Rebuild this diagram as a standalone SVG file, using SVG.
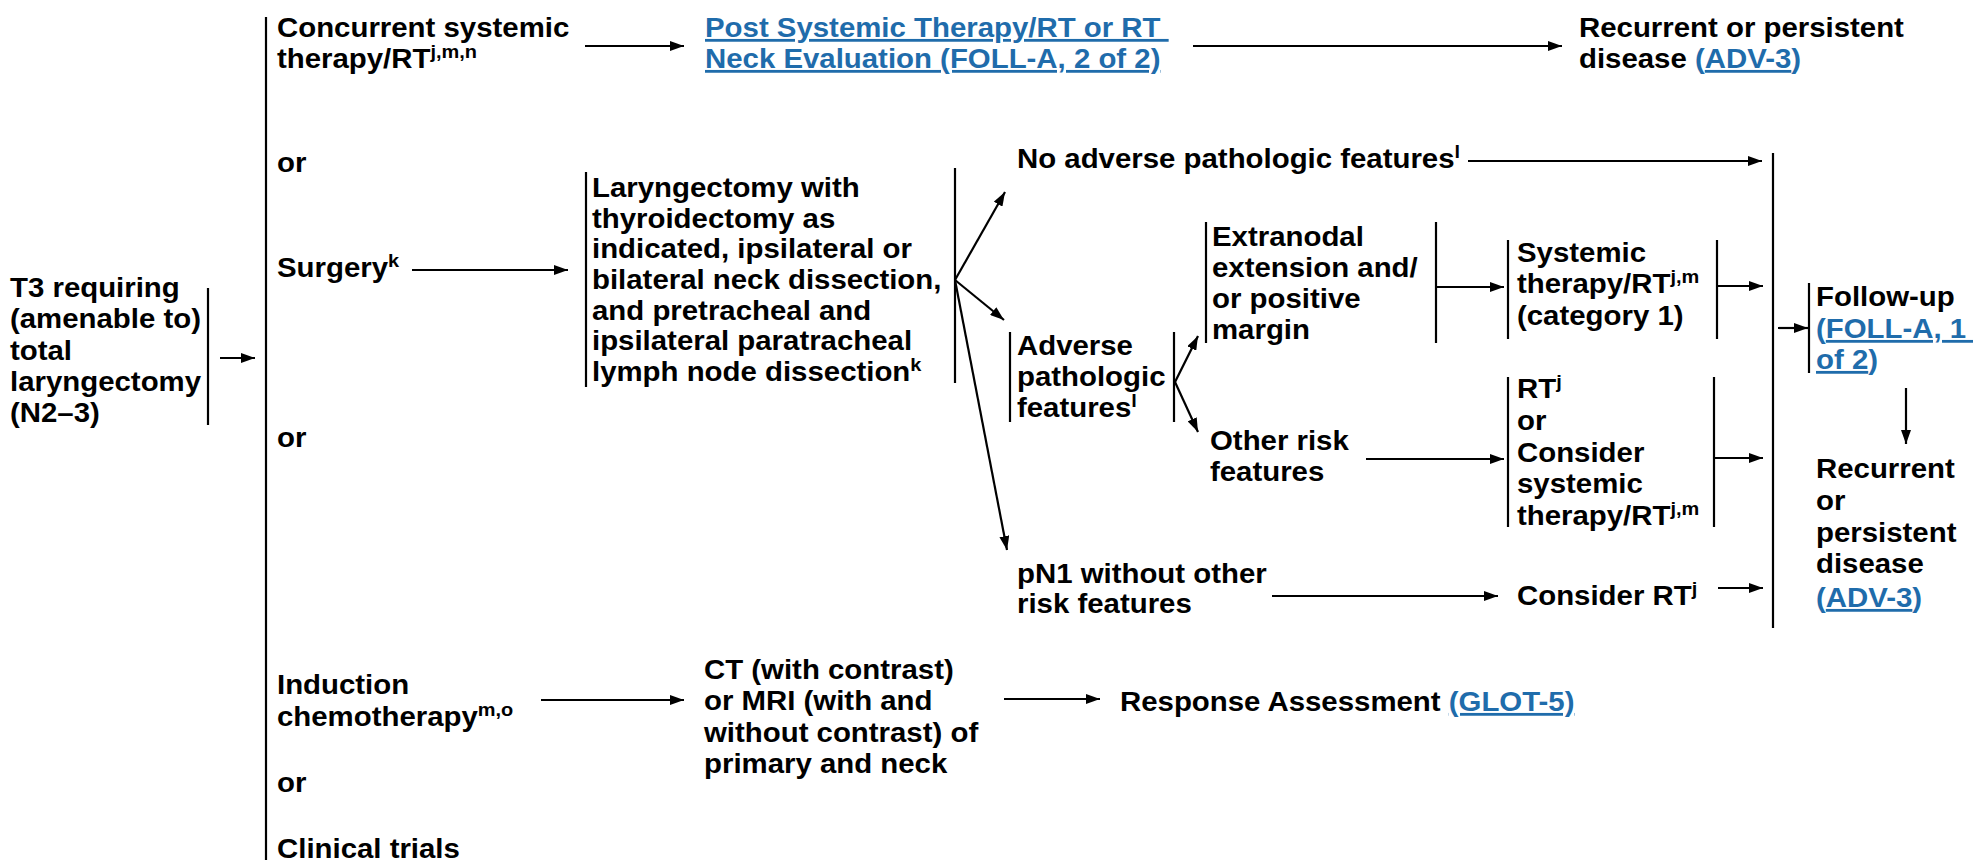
<svg xmlns="http://www.w3.org/2000/svg" width="1973" height="863" viewBox="0 0 1973 863">
<defs>
<style>
.t{font-family:"Liberation Sans",Arial,Helvetica,sans-serif;font-weight:bold;font-size:28px;fill:#000}
.s{font-size:19px}
.lk{fill:#1f6cab}
.u{text-decoration:underline}
.ln{stroke:#000;stroke-width:2.2;fill:none}
.ar{stroke:#000;stroke-width:2.2;fill:none;marker-end:url(#ah)}
</style>
<marker id="ah" viewBox="0 0 14 10" refX="14" refY="5" markerWidth="14" markerHeight="10" orient="auto" markerUnits="userSpaceOnUse"><path d="M0,0 L14,5 L0,10 z" fill="#000"/></marker>
</defs>
<rect width="1973" height="863" fill="#fff"/>

<g id="connectors">
<line class="ln" x1="266" y1="17" x2="266" y2="860"/>
<line class="ln" x1="208" y1="288" x2="208" y2="425"/>
<line class="ar" x1="220" y1="358" x2="255" y2="358"/>
<line class="ar" x1="585" y1="46" x2="684" y2="46"/>
<line class="ar" x1="1193" y1="46" x2="1562" y2="46"/>
<line class="ar" x1="412" y1="270" x2="568" y2="270"/>
<line class="ln" x1="586" y1="172" x2="586" y2="387"/>
<line class="ln" x1="955" y1="168" x2="955" y2="383"/>
<line class="ar" x1="955" y1="280" x2="1005" y2="192"/>
<line class="ar" x1="955" y1="280" x2="1004" y2="320"/>
<line class="ar" x1="955" y1="280" x2="1007" y2="550"/>
<line class="ar" x1="1468" y1="161" x2="1762" y2="161"/>
<line class="ln" x1="1773" y1="153" x2="1773" y2="628"/>
<line class="ln" x1="1010" y1="332" x2="1010" y2="422"/>
<line class="ln" x1="1174" y1="332" x2="1174" y2="422"/>
<line class="ar" x1="1175" y1="382" x2="1198" y2="336"/>
<line class="ar" x1="1175" y1="382" x2="1198" y2="432"/>
<line class="ln" x1="1206" y1="222" x2="1206" y2="343"/>
<line class="ln" x1="1436" y1="222" x2="1436" y2="343"/>
<line class="ar" x1="1436" y1="287" x2="1504" y2="287"/>
<line class="ln" x1="1508" y1="240" x2="1508" y2="339"/>
<line class="ln" x1="1717" y1="240" x2="1717" y2="339"/>
<line class="ar" x1="1717" y1="286" x2="1763" y2="286"/>
<line class="ar" x1="1366" y1="459" x2="1504" y2="459"/>
<line class="ln" x1="1508" y1="377" x2="1508" y2="527"/>
<line class="ln" x1="1714" y1="377" x2="1714" y2="527"/>
<line class="ar" x1="1714" y1="458" x2="1763" y2="458"/>
<line class="ar" x1="1272" y1="596" x2="1498" y2="596"/>
<line class="ar" x1="1718" y1="588" x2="1763" y2="588"/>
<line class="ar" x1="1778" y1="328" x2="1808" y2="328"/>
<line class="ln" x1="1809" y1="283" x2="1809" y2="373"/>
<line class="ar" x1="1906" y1="388" x2="1906" y2="444"/>
<line class="ar" x1="541" y1="700" x2="684" y2="700"/>
<line class="ar" x1="1004" y1="699" x2="1100" y2="699"/>
</g>

<g id="n_t3"><text class="t" transform="translate(10,0) scale(1.05,1)"><tspan x="0" y="297">T3 requiring</tspan><tspan x="0" y="328">(amenable to)</tspan><tspan x="0" y="360">total</tspan><tspan x="0" y="391">laryngectomy</tspan><tspan x="0" y="422">(N2–3)</tspan></text></g>

<g id="n_concurrent"><text class="t" transform="translate(277,0) scale(1.05,1)"><tspan x="0" y="37">Concurrent systemic</tspan><tspan x="0" y="68">therapy/RT</tspan><tspan class="s" dy="-10">j,m,n</tspan></text></g>

<g id="n_or1"><text class="t" transform="translate(277,0) scale(1.05,1)"><tspan x="0" y="172">or</tspan></text></g>

<g id="n_surgery"><text class="t" transform="translate(277,0) scale(1.05,1)"><tspan x="0" y="277">Surgery</tspan><tspan class="s" dy="-10">k</tspan></text></g>

<g id="n_or2"><text class="t" transform="translate(277,0) scale(1.05,1)"><tspan x="0" y="447">or</tspan></text></g>

<g id="n_induction"><text class="t" transform="translate(277,0) scale(1.05,1)"><tspan x="0" y="694">Induction</tspan><tspan x="0" y="726">chemotherapy</tspan><tspan class="s" dy="-10">m,o</tspan></text></g>

<g id="n_or3"><text class="t" transform="translate(277,0) scale(1.05,1)"><tspan x="0" y="792">or</tspan></text></g>

<g id="n_clinical"><text class="t" transform="translate(277,0) scale(1.05,1)"><tspan x="0" y="858">Clinical trials</tspan></text></g>

<g id="n_post"><text class="t lk" transform="translate(705,0) scale(1.05,1)"><tspan class="u" x="0" y="37">Post Systemic Therapy/RT or RT </tspan><tspan class="u" x="0" y="68">Neck Evaluation (FOLL-A, 2 of 2)</tspan></text></g>

<g id="n_recur1"><text class="t" transform="translate(1579,0) scale(1.05,1)"><tspan x="0" y="37">Recurrent or persistent</tspan><tspan x="0" y="68">disease </tspan><tspan class="lk">(</tspan><tspan class="lk u">ADV-3</tspan><tspan class="lk">)</tspan></text></g>

<g id="n_laryng"><text class="t" transform="translate(592,0) scale(1.05,1)"><tspan x="0" y="197">Laryngectomy with</tspan><tspan x="0" y="228">thyroidectomy as</tspan><tspan x="0" y="258">indicated, ipsilateral or</tspan><tspan x="0" y="289">bilateral neck dissection,</tspan><tspan x="0" y="320">and pretracheal and</tspan><tspan x="0" y="350">ipsilateral paratracheal</tspan><tspan x="0" y="381">lymph node dissection</tspan><tspan class="s" dy="-10">k</tspan></text></g>

<g id="n_noadverse"><text class="t" transform="translate(1017,0) scale(1.05,1)"><tspan x="0" y="168">No adverse pathologic features</tspan><tspan class="s" dy="-10">l</tspan></text></g>

<g id="n_adverse"><text class="t" transform="translate(1017,0) scale(1.05,1)"><tspan x="0" y="355">Adverse</tspan><tspan x="0" y="386">pathologic</tspan><tspan x="0" y="417">features</tspan><tspan class="s" dy="-10">l</tspan></text></g>

<g id="n_extranodal"><text class="t" transform="translate(1212,0) scale(1.05,1)"><tspan x="0" y="246">Extranodal</tspan><tspan x="0" y="277">extension and/</tspan><tspan x="0" y="308">or positive</tspan><tspan x="0" y="339">margin</tspan></text></g>

<g id="n_other"><text class="t" transform="translate(1210,0) scale(1.05,1)"><tspan x="0" y="450">Other risk</tspan><tspan x="0" y="481">features</tspan></text></g>

<g id="n_pn1"><text class="t" transform="translate(1017,0) scale(1.05,1)"><tspan x="0" y="583">pN1 without other</tspan><tspan x="0" y="613">risk features</tspan></text></g>

<g id="n_systemic"><text class="t" transform="translate(1517,0) scale(1.05,1)"><tspan x="0" y="262">Systemic</tspan><tspan x="0" y="293">therapy/RT</tspan><tspan class="s" dy="-10">j,m</tspan><tspan x="0" y="325">(category 1)</tspan></text></g>

<g id="n_rt"><text class="t" transform="translate(1517,0) scale(1.05,1)"><tspan x="0" y="398">RT</tspan><tspan class="s" dy="-10">j</tspan><tspan x="0" y="430">or</tspan><tspan x="0" y="462">Consider</tspan><tspan x="0" y="493">systemic</tspan><tspan x="0" y="525">therapy/RT</tspan><tspan class="s" dy="-10">j,m</tspan></text></g>

<g id="n_considerrt"><text class="t" transform="translate(1517,0) scale(1.05,1)"><tspan x="0" y="605">Consider RT</tspan><tspan class="s" dy="-10">j</tspan></text></g>

<g id="n_followup"><text class="t" transform="translate(1816,0) scale(1.05,1)"><tspan x="0" y="306">Follow-up</tspan><tspan class="lk" x="0" y="338">(</tspan><tspan class="lk u">FOLL-A, 1 </tspan><tspan class="lk u" x="0" y="369">of 2</tspan><tspan class="lk">)</tspan></text></g>

<g id="n_recur2"><text class="t" transform="translate(1816,0) scale(1.05,1)"><tspan x="0" y="478">Recurrent</tspan><tspan x="0" y="510">or</tspan><tspan x="0" y="542">persistent</tspan><tspan x="0" y="573">disease</tspan><tspan class="lk" x="0" y="607">(</tspan><tspan class="lk u">ADV-3</tspan><tspan class="lk">)</tspan></text></g>

<g id="n_ct"><text class="t" transform="translate(704,0) scale(1.05,1)"><tspan x="0" y="679">CT (with contrast)</tspan><tspan x="0" y="710">or MRI (with and</tspan><tspan x="0" y="742">without contrast) of</tspan><tspan x="0" y="773">primary and neck</tspan></text></g>

<g id="n_response"><text class="t" transform="translate(1120,0) scale(1.05,1)"><tspan x="0" y="711">Response Assessment </tspan><tspan class="lk u">(GLOT-5)</tspan></text></g>
</svg>
